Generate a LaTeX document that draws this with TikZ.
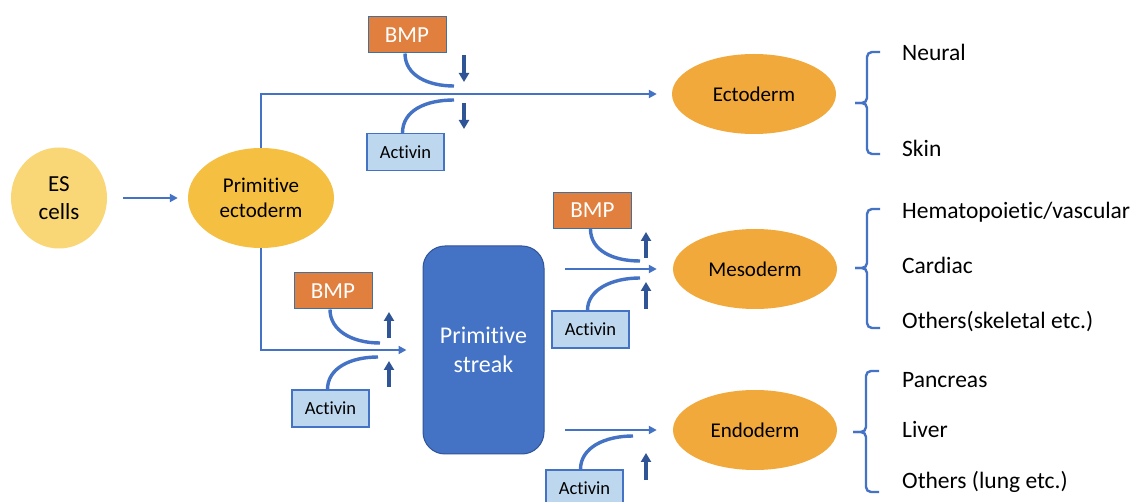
\documentclass[tikz,border=0pt]{standalone}
\usepackage{fontspec}
\setmainfont{Carlito}[RawFeature={-liga;-clig}]
\usetikzlibrary{arrows.meta,shapes.geometric}
\definecolor{esY}{HTML}{FAD776}
\definecolor{peY}{HTML}{F5BF41}
\definecolor{germ}{HTML}{F2A93B}
\definecolor{bmpO}{HTML}{E07F3E}
\definecolor{actF}{HTML}{BDD7EE}
\definecolor{blu}{HTML}{4472C4}
\definecolor{dblu}{HTML}{2F5597}
\definecolor{bord}{HTML}{41719C}
\tikzset{
 conn/.style={draw=blu, line width=2.5pt, -{Triangle[length=8pt,width=8pt]}},
 curv/.style={draw=blu, line width=3.4pt},
 fat/.style={draw=dblu, line width=3.6pt, -{Triangle[length=9pt,width=10pt]}},
 bmpbox/.style={rectangle, fill=bmpO, draw=bord, line width=1pt, minimum width=78pt, minimum height=36pt, inner sep=0pt, text=white, font=\fontsize{23}{26}\selectfont},
 actbox/.style={rectangle, fill=actF, draw=blu, line width=1.2pt, minimum width=77pt, minimum height=37pt, inner sep=0pt, font=\fontsize{18.5}{22}\selectfont},
 germbox/.style={ellipse, fill=germ, minimum width=164pt, minimum height=80pt, inner sep=0pt, font=\fontsize{21}{25}\selectfont},
 lbl/.style={anchor=base west, inner sep=0pt, font=\fontsize{23.5}{28}\selectfont},
 brace/.style={draw=blu, line width=2.4pt, rounded corners=5pt},
}
\begin{document}
\begin{tikzpicture}[x=1pt,y=-1pt]
\clip (0,0) rectangle (1141,502);
\fill[white] (0,0) rectangle (1141,502);
% main nodes
\node[ellipse, fill=esY, minimum width=96pt, minimum height=101pt, inner sep=0pt, align=center, font=\fontsize{23}{28}\selectfont] (es) at (59,198) {ES\\cells};
\node[ellipse, fill=peY, minimum width=146pt, minimum height=100pt, inner sep=0pt, align=center, font=\fontsize{21}{25.5}\selectfont] (pe) at (261,198) {Primitive\\ectoderm};
\node[rectangle, rounded corners=22pt, fill=blu, draw=dblu, line width=1pt, minimum width=121pt, minimum height=208pt, inner sep=0pt, align=center, text=white, font=\fontsize{24}{29}\selectfont] (ps) at (483.5,350) {Primitive\\streak};
\node[germbox] (ecto) at (754,94) {Ectoderm};
\node[germbox] (meso) at (755,269) {Mesoderm};
\node[germbox] (endo) at (755,430) {Endoderm};
% connectors
\draw[conn, shorten <=16pt, shorten >=10pt] (es) -- (pe);
\draw[conn, shorten >=15pt] (pe.north) |- (ecto.west);
\draw[conn, shorten >=16pt] (pe.south) |- (ps.west);
\coordinate (m0) at (565,269);
\coordinate (n0) at (565,430);
\draw[conn, shorten >=16pt] (m0) -- (meso.west);
\draw[conn, shorten >=16pt] (n0) -- (endo.west);
% ectoderm regulators
\node[bmpbox] (bmpA) at (407,35) {BMP};
\node[actbox] (actA) at (405.5,152) {Activin};
\coordinate (a1) at (454,86);
\coordinate (a2) at (454,100);
\draw[curv] ([xshift=-2pt]bmpA.south) .. controls +(0,22) and +(-26,0) .. (a1);
\draw[curv] (a2) .. controls +(-29,0) and +(0,-22) .. ([xshift=-3pt]actA.north);
\coordinate (a3) at (464,55); \coordinate (a4) at (464,82);
\coordinate (a5) at (464,103); \coordinate (a6) at (464,129);
\draw[fat] (a3) -- (a4);
\draw[fat] (a5) -- (a6);
% primitive streak regulators
\node[bmpbox] (bmpB) at (333,291) {BMP};
\node[actbox] (actB) at (330.5,408.5) {Activin};
\coordinate (b1) at (380,343);
\coordinate (b2) at (378,357);
\draw[curv] ([xshift=-3pt]bmpB.south) .. controls +(0,21) and +(-28,0) .. (b1);
\draw[curv] (b2) .. controls +(-28,0) and +(0,-21) .. ([xshift=-3pt]actB.north);
\coordinate (b3) at (389,338); \coordinate (b4) at (389,312);
\coordinate (b5) at (389,387); \coordinate (b6) at (389,361);
\draw[fat] (b3) -- (b4);
\draw[fat] (b5) -- (b6);
% mesoderm regulators
\node[bmpbox] (bmpC) at (592.5,210.5) {BMP};
\node[actbox] (actC) at (590.5,329.5) {Activin};
\coordinate (c1) at (640,261);
\coordinate (c2) at (640,278);
\draw[curv] ([xshift=-2pt]bmpC.south) .. controls +(0,21) and +(-28,0) .. (c1);
\draw[curv] (c2) .. controls +(-28,0) and +(0,-21) .. ([xshift=-3pt]actC.north);
\coordinate (c3) at (646,258); \coordinate (c4) at (646,232);
\coordinate (c5) at (646,309); \coordinate (c6) at (646,282);
\draw[fat] (c3) -- (c4);
\draw[fat] (c5) -- (c6);
% endoderm regulators
\node[actbox] (actD) at (584.5,488.5) {Activin};
\coordinate (d2) at (633,436);
\draw[curv] (d2) .. controls +(-28,0) and +(0,-22) .. ([xshift=-4pt]actD.north);
\coordinate (d5) at (646,480); \coordinate (d6) at (646,453);
\draw[fat] (d5) -- (d6);
% braces
\draw[brace] (880,52) -- (867,52) -- (867,103) -- (855,103);
\draw[brace] (855,103) -- (867,103) -- (867,154) -- (880,154);
\draw[brace] (880,209) -- (867,209) -- (867,268) -- (855,268);
\draw[brace] (855,268) -- (867,268) -- (867,328) -- (880,328);
\draw[brace] (879,371) -- (866,371) -- (866,432) -- (853,432);
\draw[brace] (853,432) -- (866,432) -- (866,492) -- (879,492);
% labels
\node[lbl] (l1) at (902,60.5) {Neural};
\node[lbl] (l2) at (902,156.5) {Skin};
\node[lbl] (l3) at (902,218.5) {Hematopoietic/vascular};
\node[lbl] (l4) at (902,273.5) {Cardiac};
\node[lbl] (l5) at (902,328.5) {Others(skeletal etc.)};
\node[lbl] (l6) at (902,387.5) {Pancreas};
\node[lbl] (l7) at (902,437.5) {Liver};
\node[lbl] (l8) at (902,488.5) {Others (lung etc.)};
\end{tikzpicture}
\end{document}
